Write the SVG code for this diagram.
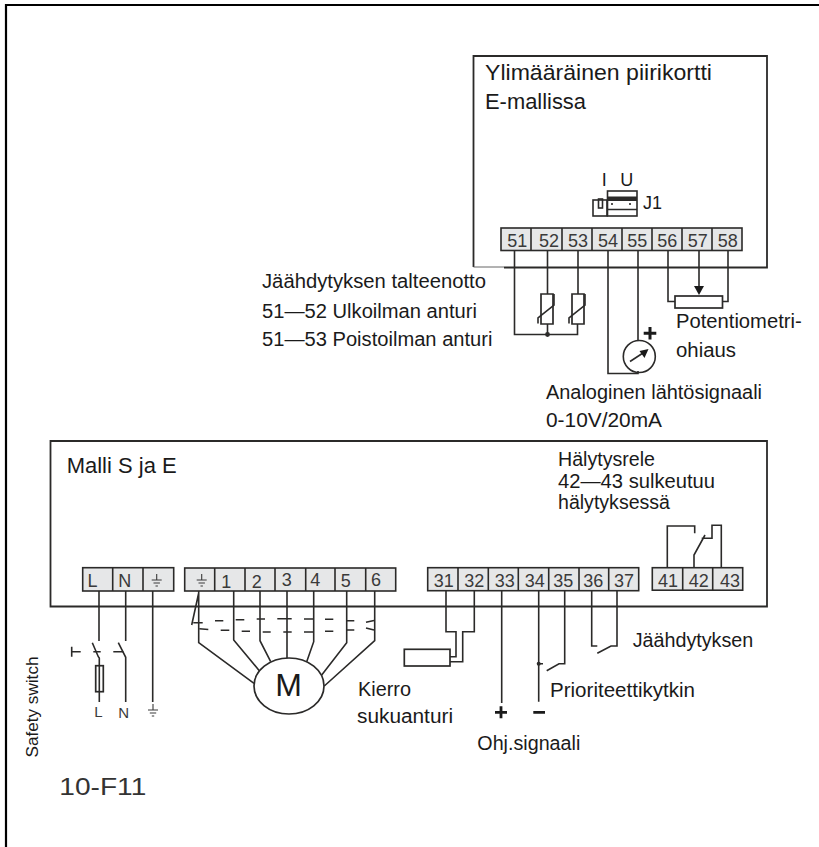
<svg xmlns="http://www.w3.org/2000/svg" width="819" height="847" viewBox="0 0 819 847">
<style>
text{font-family:"Liberation Sans",Arial,sans-serif;fill:#1a1a1a}
.t{font-size:19.5px}
.h{font-size:21.5px}
.n{font-size:18px;fill:#3a3a3a;text-anchor:middle}
.s{font-size:15px;fill:#3a3a3a;text-anchor:middle}
.w{fill:none;stroke:#2b2a29;stroke-width:1.6}
.b{fill:none;stroke:#2b2a29;stroke-width:1.8}
.c{fill:#e6e7e8;stroke:#2b2a29;stroke-width:1.6}
.o{fill:#fff;stroke:#2b2a29;stroke-width:1.7}
.g{fill:none;stroke:#3a3a3a;stroke-width:1.1}
</style>
<defs>
<g id="gnd"><path class="g" d="M0,-7V-1M-5,-1H5M-3.200,2H3.200M-1.200,5H1.200"/></g>
<path id="res" class="o" d="M-6,0H6V30H-6Z"/>
</defs>
<path d="M6,847V5H819" fill="none" stroke="#000" stroke-width="2.200"/>

<g id="box-ext">
<path class="b" d="M504,267.500H767V56H473.500V267" stroke-width="2"/>
<path d="M473.500,267H504" fill="none" stroke="#666" stroke-width="1"/>
<text class="h" x="485" y="79.500" textLength="227" lengthAdjust="spacingAndGlyphs">Ylimääräinen piirikortti</text>
<text class="h" x="485" y="109" textLength="101" lengthAdjust="spacingAndGlyphs">E-mallissa</text>
</g>
<g id="box-main">
<path class="b" d="M50.500,441H767V606.500H50.500Z"/>
<text class="h" x="66.700" y="472.700" textLength="110" lengthAdjust="spacingAndGlyphs">Malli S ja E</text>
<text class="t" x="558" y="466" textLength="97" lengthAdjust="spacingAndGlyphs">Hälytysrele</text>
<text class="t" x="558" y="488" textLength="157" lengthAdjust="spacingAndGlyphs">42—43 sulkeutuu</text>
<text class="t" x="558" y="508.500" textLength="112" lengthAdjust="spacingAndGlyphs">hälytyksessä</text>
</g>

<g id="terminals-51-58">
<rect class="c" x="501" y="228" width="241" height="22.500"/>
<path class="w" d="M531,228v22.500M562,228v22.500M592,228v22.500M622,228v22.500M652,228v22.500M682,228v22.500M712,228v22.500"/>
<text class="n" x="517.300" y="246.500">51</text><text class="n" x="549" y="246.500">52</text><text class="n" x="578" y="246.500">53</text><text class="n" x="608" y="246.500">54</text><text class="n" x="637.300" y="246.500">55</text><text class="n" x="667.300" y="246.500">56</text><text class="n" x="697.700" y="246.500">57</text><text class="n" x="727.700" y="246.500">58</text>
</g>
<g id="jumper-j1">
<text class="n" x="604.300" y="185.700" style="fill:#1a1a1a">I</text><text class="n" x="626.700" y="185.700" style="fill:#1a1a1a">U</text><text class="n" x="652.500" y="209.300" style="fill:#1a1a1a">J1</text>
<rect class="w" x="593" y="200" width="14" height="16" stroke-width="1.200"/>
<rect class="w" x="598.500" y="199" width="4" height="9" stroke-width="1.200"/>
<rect class="w" x="607.500" y="191" width="29.500" height="25"/>
<rect x="607.500" y="196.500" width="29.500" height="4.500" fill="#2b2a29"/>
<path class="w" d="M608,209.500H637M612,203V205M630,203V205"/>
</g>
<g id="terminals-L">
<rect class="c" x="82.700" y="567.700" width="91" height="23.300"/>
<path class="w" d="M112.700,567.700v23.300M143,567.700v23.300"/>
<text class="n" x="92.500" y="587">L</text><text class="n" x="124.700" y="587">N</text>
<use href="#gnd" x="156.700" y="581"/>
</g>
<g id="terminals-motor">
<rect class="c" x="184.700" y="568" width="211" height="23"/>
<path class="w" d="M214.700,568v23M245,568v23M275,568v23M305.700,568v23M335,568v23M365.700,568v23"/>
<use href="#gnd" x="201.700" y="581"/>
<text class="n" x="226.300" y="588">1</text><text class="n" x="256.700" y="588">2</text><text class="n" x="286.700" y="586">3</text><text class="n" x="315.300" y="586">4</text><text class="n" x="345.700" y="587">5</text><text class="n" x="376" y="586">6</text>
</g>
<g id="terminals-31-37">
<rect class="c" x="427.700" y="567.700" width="211" height="23"/>
<path class="w" d="M458,567.700v23M488.300,567.700v23M518.300,567.700v23M548.700,567.700v23M579,567.700v23M608.700,567.700v23"/>
<text class="n" x="443.700" y="587">31</text><text class="n" x="474.300" y="587">32</text><text class="n" x="504.700" y="587">33</text><text class="n" x="534.700" y="587">34</text><text class="n" x="563.300" y="587">35</text><text class="n" x="593.300" y="587">36</text><text class="n" x="624" y="587">37</text>
</g>
<g id="terminals-41-43">
<rect class="c" x="652.300" y="567.700" width="90.400" height="22.500"/>
<path class="w" d="M682.700,567.700v22.500M712.700,567.700v22.500"/>
<text class="n" x="668" y="587">41</text><text class="n" x="698.700" y="587">42</text><text class="n" x="730" y="587">43</text>
</g>

<g id="connectors">
<path class="w" d="M514.500,251V334.500H577.500V324M547.500,251V294M547.500,324V334.500M578,251V294"/>
<path class="w" d="M608,251V373.500H638V371M638,251V340.500"/>
<path class="w" d="M668,251V301.500H675M728,251V301.500H722.500M699,251V287"/>
<path class="w" d="M99,591V641M92.300,642.700L98.300,656.700L99.300,658V702M125.700,591V641M118.300,642.700L125.700,657.300V702M152.700,591V702"/>
<path class="w" d="M71.700,646.700V656.700M71.700,651.700H80.700M93.300,651.700H100.700M113.300,651.700H123.300"/>
<path class="w" d="M198.700,591V642.700L254,683.300M198.700,593L191.700,625M233.700,591V640L259.300,670.700M260,591V640.700L270.700,661.700M287,591V658M313.700,591V641.700L306.700,661.700M346.700,591V642.700L321.700,675M374.700,591V640.700L324.300,686"/>
<path class="w" d="M193.300,622.700H202.700M215,620.700H223.300M235.700,619.700H244.300M256.700,619H265M277.300,618.700H291.700M304,619H313.300M325,619.300H333.300M346.700,620.700H354.300M366,622.300L374,620.500"/>
<path class="w" d="M199.300,628.700L208.300,629.500M220.700,630.300H229.300M241.700,631.300H250M262.700,632H270.700M283.300,632H291.700M304,632H313.300M325,631.300H333.300M346,630H354.300M366,628L374,630"/>
<path class="w" d="M446,591V631.700H456V656.700H450M474.300,591V631.700H462.700V661.700H450"/>
<path class="w" d="M501.700,591V703M538.700,591V701.700M538.700,663.700H543M564.700,591V663.700H559L546.700,670.700"/>
<path class="w" d="M591.700,591V646H597.300M617,591V646H611L597.300,653.300"/>
<path class="w" d="M667.300,567.700V526H694.700V533.300M694,567.700V555L705,535M721.300,567.700V525.300H712V538.300H701.700"/>
</g>

<g id="sensor-52"><use href="#res" x="547" y="294"/><path class="w" d="M538,323.500V318L554,305V294"/></g>
<g id="sensor-53"><use href="#res" x="578" y="294"/><path class="w" d="M569,323.500V318L585,305V294"/></g>
<circle cx="547.500" cy="334.500" r="2.400" fill="#2b2a29"/>
<g id="meter">
<circle class="w" cx="639.300" cy="356.500" r="16" stroke-width="1.800"/>
<path class="w" d="M630,361.500L643,353" stroke-width="2"/>
<path d="M648.500,349L639.500,351L644.500,358Z" fill="#1a1a1a"/>
<path d="M650,327V339.500M643.700,333.300H656.300" stroke="#1a1a1a" stroke-width="3" fill="none"/>
</g>
<g id="potentiometer">
<rect class="o" x="675" y="296" width="47.500" height="12"/>
<path d="M694,286H704L699,295Z" fill="#1a1a1a"/>
</g>
<g id="fuse"><rect class="o" x="95.700" y="665.700" width="7.600" height="26"/><path class="w" d="M99.300,665.700V692"/></g>
<g id="motor">
<ellipse class="o" cx="289" cy="686" rx="35" ry="28"/>
<text x="288.500" y="696" font-size="32" text-anchor="middle" fill="#2b2a29">M</text>
</g>
<g id="temp-sensor"><rect class="o" x="404.300" y="649.300" width="45.700" height="16.700"/></g>
<circle cx="538.700" cy="663.700" r="2" fill="#2b2a29"/>
<path d="M495,712.300H507M501,706.300V718.300M533.300,712.300H545" stroke="#1a1a1a" stroke-width="2.800" fill="none"/>
<text class="s" x="98.500" y="716.700">L</text><text class="s" x="123.700" y="717.500">N</text>
<use href="#gnd" x="153" y="711"/>

<g id="labels">
<text class="t" x="262" y="288" textLength="224" lengthAdjust="spacingAndGlyphs">Jäähdytyksen talteenotto</text>
<text class="t" x="262" y="317.700" textLength="215" lengthAdjust="spacingAndGlyphs">51—52 Ulkoilman anturi</text>
<text class="t" x="262" y="346" textLength="230.500" lengthAdjust="spacingAndGlyphs">51—53 Poistoilman anturi</text>
<text class="t" x="676" y="328" textLength="125.700" lengthAdjust="spacingAndGlyphs">Potentiometri-</text>
<text class="t" x="676" y="356.700" textLength="60" lengthAdjust="spacingAndGlyphs">ohiaus</text>
<text class="t" x="546" y="399" textLength="216" lengthAdjust="spacingAndGlyphs">Analoginen lähtösignaali</text>
<text class="t" x="546" y="426.700" textLength="116" lengthAdjust="spacingAndGlyphs">0-10V/20mA</text>
<text class="t" x="358" y="696" textLength="53" lengthAdjust="spacingAndGlyphs">Kierro</text>
<text class="t" x="357" y="722.700" textLength="96" lengthAdjust="spacingAndGlyphs">sukuanturi</text>
<text class="t" x="632.700" y="646.700" textLength="120.600" lengthAdjust="spacingAndGlyphs">Jäähdytyksen</text>
<text class="t" x="550" y="697" textLength="145" lengthAdjust="spacingAndGlyphs">Prioriteettikytkin</text>
<text class="t" x="477.300" y="750" textLength="103" lengthAdjust="spacingAndGlyphs">Ohj.signaali</text>
<text x="59.300" y="795" font-size="24.500" textLength="87" lengthAdjust="spacingAndGlyphs" style="fill:#333">10-F11</text>
<text x="38" y="757.500" font-size="16" textLength="101" lengthAdjust="spacingAndGlyphs" transform="rotate(-90 38 757.500)">Safety switch</text>
</g>
</svg>
